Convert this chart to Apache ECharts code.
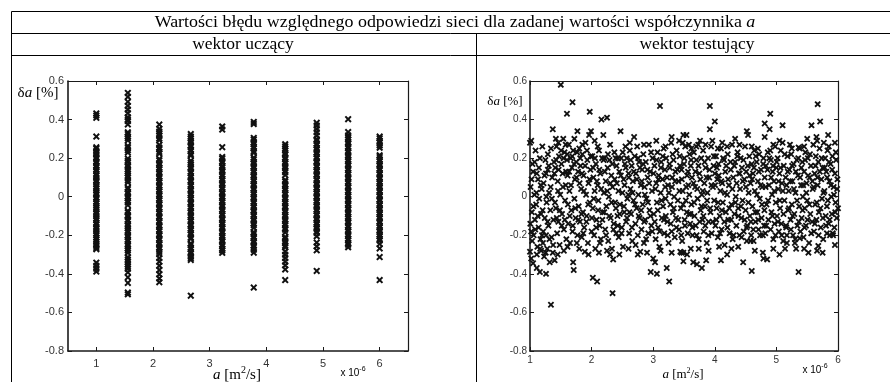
<!DOCTYPE html>
<html>
<head>
<meta charset="UTF-8">
<title>Wartości błędu względnego</title>
<script src="https://cdn.jsdelivr.net/npm/echarts@6/dist/echarts.min.js"></script>
</head>
<body style="margin:0;background:#fff">
<div id="main" style="width:890px;height:382px;"></div>
<script type="text/javascript">
// wartosci wspolczynnika a (x 10^-6) dla wektora uczacego
var aLevels = [1, 1.556, 2.111, 2.667, 3.222, 3.778, 4.333, 4.889, 5.444, 6];

// blad wzgledny [%] - wektor uczacy, jedna lista na kazda wartosc a
var trainErr = [
  [0.432, 0.421, 0.409, 0.312, 0.256, 0.249, 0.236, 0.227, 0.219, 0.204, 0.196, 0.183, 0.176, 0.161, 0.152, 0.14, 0.133, 0.118, 0.109, 0.097, 0.084, 0.078, 0.063, 0.051, 0.044, 0.031, 0.019, 0.011, -0.003, -0.012, -0.026, -0.034, -0.047, -0.058, -0.066, -0.079, -0.088, -0.101, -0.113, -0.121, -0.136, -0.144, -0.157, -0.166, -0.178, -0.191, -0.199, -0.212, -0.223, -0.234, -0.246, -0.255, -0.266, -0.272, -0.342, -0.358, -0.373, -0.388],
  [0.538, 0.518, 0.492, 0.471, 0.452, 0.433, 0.412, 0.401, 0.392, 0.375, 0.334, 0.325, 0.311, 0.303, 0.292, 0.263, 0.254, 0.241, 0.229, 0.198, 0.186, 0.179, 0.164, 0.155, 0.142, 0.133, 0.121, 0.108, 0.099, 0.086, 0.075, 0.047, 0.039, 0.024, 0.016, 0.002, -0.007, -0.021, -0.03, -0.044, -0.073, -0.081, -0.096, -0.104, -0.119, -0.127, -0.142, -0.151, -0.163, -0.176, -0.185, -0.2, -0.209, -0.222, -0.231, -0.246, -0.255, -0.268, -0.279, -0.291, -0.314, -0.326, -0.338, -0.351, -0.363, -0.374, -0.392, -0.418, -0.447, -0.497, -0.506],
  [0.374, 0.352, 0.338, 0.326, 0.317, 0.302, 0.293, 0.269, 0.255, 0.247, 0.232, 0.223, 0.196, 0.188, 0.173, 0.165, 0.151, 0.142, 0.128, 0.119, 0.105, 0.096, 0.082, 0.074, 0.059, 0.05, 0.036, 0.027, 0.013, 0.004, -0.01, -0.019, -0.033, -0.041, -0.056, -0.064, -0.079, -0.087, -0.102, -0.11, -0.125, -0.133, -0.148, -0.156, -0.171, -0.179, -0.194, -0.202, -0.217, -0.225, -0.24, -0.248, -0.263, -0.271, -0.286, -0.298, -0.318, -0.337, -0.358, -0.38, -0.402, -0.424, -0.443],
  [0.325, 0.312, 0.301, 0.289, 0.281, 0.266, 0.258, 0.244, 0.236, 0.221, 0.213, 0.187, 0.176, 0.167, 0.153, 0.145, 0.13, 0.122, 0.108, 0.099, 0.085, 0.077, 0.062, 0.054, 0.039, 0.031, 0.017, 0.008, -0.006, -0.015, -0.029, -0.037, -0.052, -0.06, -0.074, -0.083, -0.097, -0.106, -0.12, -0.128, -0.143, -0.151, -0.165, -0.174, -0.188, -0.196, -0.211, -0.219, -0.242, -0.25, -0.264, -0.273, -0.287, -0.295, -0.309, -0.318, -0.328, -0.513],
  [0.364, 0.348, 0.257, 0.206, 0.197, 0.183, 0.175, 0.16, 0.152, 0.138, 0.129, 0.115, 0.107, 0.092, 0.084, 0.07, 0.061, 0.047, 0.039, 0.024, 0.016, 0.002, -0.007, -0.021, -0.029, -0.044, -0.052, -0.066, -0.075, -0.089, -0.097, -0.112, -0.12, -0.134, -0.143, -0.157, -0.165, -0.18, -0.188, -0.202, -0.211, -0.225, -0.233, -0.248, -0.256, -0.27, -0.279, -0.291],
  [0.388, 0.377, 0.305, 0.296, 0.282, 0.273, 0.259, 0.251, 0.236, 0.228, 0.203, 0.194, 0.18, 0.171, 0.157, 0.149, 0.134, 0.126, 0.112, 0.103, 0.089, 0.08, 0.066, 0.058, 0.043, 0.035, 0.021, 0.012, -0.002, -0.011, -0.025, -0.033, -0.048, -0.056, -0.07, -0.079, -0.093, -0.101, -0.116, -0.124, -0.138, -0.147, -0.161, -0.184, -0.193, -0.207, -0.215, -0.23, -0.238, -0.252, -0.261, -0.275, -0.29, -0.471],
  [0.272, 0.261, 0.249, 0.24, 0.226, 0.218, 0.203, 0.195, 0.181, 0.172, 0.158, 0.149, 0.135, 0.127, 0.112, 0.087, 0.079, 0.064, 0.056, 0.042, 0.033, 0.019, 0.011, -0.004, -0.012, -0.026, -0.035, -0.049, -0.057, -0.072, -0.08, -0.094, -0.103, -0.117, -0.126, -0.14, -0.148, -0.163, -0.171, -0.185, -0.209, -0.217, -0.231, -0.24, -0.254, -0.262, -0.284, -0.301, -0.318, -0.337, -0.356, -0.377, -0.432],
  [0.383, 0.369, 0.351, 0.334, 0.317, 0.298, 0.29, 0.275, 0.267, 0.253, 0.244, 0.23, 0.221, 0.207, 0.199, 0.184, 0.176, 0.161, 0.153, 0.139, 0.13, 0.116, 0.108, 0.093, 0.085, 0.07, 0.062, 0.048, 0.039, 0.025, 0.016, 0.002, -0.006, -0.021, -0.029, -0.043, -0.052, -0.066, -0.075, -0.089, -0.097, -0.112, -0.12, -0.134, -0.143, -0.157, -0.166, -0.18, -0.188, -0.205, -0.238, -0.257, -0.278, -0.385],
  [0.402, 0.335, 0.318, 0.306, 0.297, 0.283, 0.274, 0.26, 0.252, 0.237, 0.229, 0.215, 0.206, 0.192, 0.183, 0.169, 0.161, 0.146, 0.138, 0.124, 0.115, 0.101, 0.092, 0.078, 0.07, 0.055, 0.047, 0.032, 0.024, 0.01, 0.001, -0.013, -0.022, -0.036, -0.044, -0.059, -0.067, -0.081, -0.09, -0.104, -0.113, -0.127, -0.135, -0.15, -0.158, -0.172, -0.181, -0.195, -0.204, -0.218, -0.226, -0.241, -0.249, -0.262],
  [0.312, 0.303, 0.289, 0.28, 0.266, 0.254, 0.215, 0.206, 0.192, 0.183, 0.169, 0.16, 0.146, 0.138, 0.123, 0.115, 0.1, 0.092, 0.078, 0.069, 0.055, 0.046, 0.032, 0.024, 0.009, 0.001, -0.014, -0.022, -0.037, -0.045, -0.059, -0.068, -0.082, -0.091, -0.105, -0.113, -0.128, -0.136, -0.151, -0.159, -0.173, -0.182, -0.196, -0.205, -0.219, -0.227, -0.245, -0.268, -0.313, -0.432]
];

// wektor testujacy: [a (x 10^-6), blad wzgledny %]
var testPts = [
  [1.5,0.58],[1.69,0.49],[1.6,0.43],[1.97,0.44],[2.16,0.4],[2.25,0.41],[1.37,0.35],[2.47,0.34],[2.69,0.31],[3.11,0.47],
  [1.77,0.34],[1.54,0.3],[1.02,0.29],[1.0,0.28],[1.29,0.22],[1.11,0.12],[1.26,0.12],[1.99,0.34],[1.96,0.32],[2.19,0.32],[3.49,0.32],
  [3.92,0.47],[5.67,0.48],[4.9,0.43],[4.0,0.39],[5.71,0.39],[4.81,0.38],[4.89,0.35],[5.1,0.37],[5.57,0.37],[3.92,0.35],
  [4.52,0.34],[4.54,0.32],[5.84,0.32],[4.81,0.31],[5.65,0.31],[5.66,0.29],[3.54,0.32],[3.96,0.29],[5.1,0.28],[5.22,0.27],
  [5.36,0.255],[4.9,0.24],[5.77,0.28],[3.76,0.29],[3.48,0.28],
  [1.34,-0.56],[2.34,-0.5],[2.02,-0.42],[2.09,-0.44],[1.26,-0.4],[1.7,-0.34],[1.71,-0.38],[2.96,-0.39],[3.06,-0.4],[3.22,-0.37],
  [3.26,-0.44],[1.11,-0.37],[1.16,-0.39],[3.0,-0.32],[3.03,-0.34],[2.79,-0.285],[2.9,-0.29],[2.3,-0.3],[2.35,-0.325],[1.89,-0.285],
  [1.61,-0.26],[1.65,-0.24],[1.76,-0.24],[3.44,-0.285],[3.49,-0.29],[3.49,-0.335],[1.0,-0.285],[1.02,-0.32],[1.05,-0.345],
  [4.6,-0.385],[5.36,-0.39],[3.79,-0.37],[3.71,-0.35],[3.65,-0.34],[4.1,-0.33],[3.86,-0.33],[4.46,-0.34],[4.79,-0.32],[4.85,-0.325],
  [5.52,-0.29],[5.66,-0.28],[5.95,-0.25],[4.52,-0.23],[4.58,-0.23],[4.27,-0.27],[4.07,-0.26],[3.46,-0.29],[3.61,-0.27],[3.74,-0.27],
  [4.78,-0.29],[5.14,-0.27],[5.17,-0.24],[5.32,-0.27],[5.3,-0.24],[5.38,-0.215],[5.68,-0.255],[5.82,-0.19],[5.92,-0.2],[4.78,-0.2],[5.17,-0.2],
  [3.58,0.27],[3.62,0.25],[3.7,0.26],[3.85,0.27],[4.05,0.25],[4.12,0.28],[4.2,0.26],[4.33,0.3],[4.4,0.27],[4.6,0.26],
  [4.7,0.25],[4.95,0.27],[5.05,0.29],[5.25,0.25],[5.45,0.26],[5.5,0.3],[5.85,0.26],[5.95,0.28],
  [1.2,0.26],[1.42,0.3],[1.46,0.28],[1.58,0.27],[1.72,0.3],[1.85,0.27],[2.05,0.29],[2.1,0.26],[2.3,0.27],[2.55,0.26],
  [2.62,0.28],[2.85,0.27],[3.05,0.29],[3.2,0.26],[3.3,0.31],[3.42,0.29],
  [1.45,-0.3],[1.55,-0.28],[1.8,-0.27],[1.95,-0.3],[2.12,-0.29],[2.25,-0.28],[2.45,-0.3],[2.6,-0.27],[2.75,-0.3],[3.12,-0.28],
  [3.3,-0.29],[3.55,-0.3],[3.9,-0.28],[4.2,-0.3],[4.38,-0.26],[4.65,-0.28],[4.95,-0.27],[5.05,-0.3],[5.45,-0.27],[5.75,-0.29],
  [1.01,0.05],[1.03,-0.08],[1.04,0.17],[1.06,-0.2],[1.07,0.01],[1.08,-0.12],[1.09,0.24],[1.1,-0.04],[1.12,-0.26],[1.13,0.09],
  [1.14,-0.16],[1.15,-0.01],[1.16,0.2],[1.17,-0.22],[1.18,-0.09],[1.19,0.04],[1.02,-0.18],[1.05,0.13],[1.11,-0.3],[1.18,-0.28],
  [1.21,-0.24],[1.22,0.07],[1.23,-0.31],[1.24,-0.11],[1.25,0.19],[1.26,-0.2],[1.27,-0.03],[1.28,-0.27],[1.29,0.14],[1.3,-0.15],
  [1.31,0.02],[1.32,-0.34],[1.33,-0.07],[1.34,0.25],[1.35,-0.21],[1.36,0.1],[1.37,-0.29],[1.38,-0.12],[1.39,0.18],[1.4,-0.33],
  [1.41,0.15],[1.42,-0.06],[1.43,0.26],[1.44,-0.19],[1.45,0.08],[1.46,-0.13],[1.47,0.21],[1.48,-0.25],[1.49,0.01],[1.51,0.17],
  [1.52,-0.09],[1.53,0.12],[1.55,-0.17],[1.56,0.23],[1.57,-0.02],[1.58,0.06],[1.59,-0.22],[1.6,0.19],
  [1.61,0.11],[1.62,-0.14],[1.63,0.27],[1.64,0.03],[1.66,0.2],[1.67,-0.07],[1.68,0.15],[1.69,-0.18],[1.7,0.24],[1.72,-0.01],
  [1.73,0.09],[1.74,-0.11],[1.75,0.18],[1.77,-0.2],[1.78,0.13],[1.79,-0.05],[1.8,0.25],
  [1.81,-0.13],[1.82,0.16],[1.83,0.04],[1.84,-0.21],[1.85,0.22],[1.86,-0.08],[1.87,0.11],[1.88,-0.16],[1.9,0.28],[1.91,0.01],
  [1.92,-0.1],[1.93,0.19],[1.94,-0.24],[1.95,0.07],[1.97,-0.03],[1.98,0.14],[2.0,-0.18],
  [2.01,0.21],[2.02,-0.06],[2.03,0.1],[2.04,-0.2],[2.05,0.03],[2.06,-0.27],[2.07,0.17],[2.08,-0.12],[2.1,0.06],[2.11,-0.02],
  [2.12,0.24],[2.13,-0.15],[2.14,0.12],[2.15,-0.22],[2.17,0.2],[2.18,-0.08],[2.2,0.02],
  [2.21,0.2],[2.22,-0.17],[2.23,0.08],[2.24,-0.05],[2.26,0.15],[2.27,-0.23],[2.28,0.0],[2.29,0.19],[2.31,-0.11],[2.32,0.11],
  [2.33,-0.27],[2.34,0.05],[2.36,-0.14],[2.37,0.23],[2.38,-0.03],[2.39,0.2],[2.4,-0.19],
  [2.41,0.07],[2.42,-0.1],[2.43,0.2],[2.44,-0.21],[2.45,0.13],[2.46,-0.04],[2.48,0.2],[2.49,-0.16],[2.5,0.02],[2.51,-0.26],
  [2.52,0.09],[2.53,-0.08],[2.54,0.17],[2.56,-0.13],[2.57,0.2],[2.58,-0.01],[2.6,0.12],
  [2.61,-0.19],[2.62,0.24],[2.63,0.04],[2.64,-0.09],[2.65,0.16],[2.66,-0.23],[2.67,0.08],[2.68,-0.02],[2.7,0.21],[2.71,-0.14],
  [2.72,0.12],[2.73,-0.06],[2.74,0.26],[2.75,-0.2],[2.76,0.01],[2.77,0.18],[2.78,-0.11],[2.8,0.06],
  [2.81,-0.17],[2.82,0.14],[2.83,-0.04],[2.84,0.22],[2.85,-0.24],[2.86,0.05],[2.87,-0.12],[2.88,0.18],[2.89,-0.01],[2.91,0.1],
  [2.92,-0.19],[2.93,0.27],[2.94,-0.07],[2.95,0.13],[2.97,-0.15],[2.98,0.03],[2.99,0.2],
  [3.01,-0.09],[3.02,0.16],[3.04,-0.22],[3.05,0.07],[3.06,-0.03],[3.07,0.23],[3.08,-0.16],[3.09,0.11],[3.1,-0.26],[3.12,0.02],
  [3.13,0.18],[3.14,-0.11],[3.15,0.09],[3.16,-0.05],[3.17,0.25],[3.18,-0.19],[3.19,0.14],[3.2,-0.01],
  [3.21,0.2],[3.23,-0.13],[3.24,0.06],[3.25,-0.24],[3.27,0.15],[3.28,-0.04],[3.29,0.28],[3.3,-0.18],[3.31,0.1],[3.32,-0.08],
  [3.33,0.19],[3.34,0.0],[3.35,-0.21],[3.36,0.13],[3.37,-0.11],[3.38,0.24],[3.4,-0.02],
  [3.41,0.08],[3.42,-0.17],[3.43,0.21],[3.45,-0.06],[3.46,0.14],[3.47,-0.23],[3.48,0.03],[3.5,0.17],[3.51,-0.12],[3.52,0.26],
  [3.53,-0.02],[3.55,0.11],[3.56,-0.19],[3.57,0.06],[3.58,-0.09],[3.59,0.22],[3.6,-0.14],
  [3.61,0.16],[3.62,-0.04],[3.63,0.1],[3.64,-0.2],[3.66,0.23],[3.67,-0.1],[3.68,0.05],[3.69,-0.15],[3.7,0.19],[3.72,-0.01],
  [3.73,0.27],[3.74,-0.22],[3.75,0.12],[3.77,-0.07],[3.78,0.2],[3.79,0.01],[3.8,-0.12],
  [3.81,0.24],[3.82,-0.18],[3.83,0.07],[3.84,-0.05],[3.85,0.15],[3.87,-0.24],[3.88,0.02],[3.89,0.2],[3.9,-0.13],[3.91,0.1],
  [3.93,-0.08],[3.94,0.26],[3.95,-0.19],[3.97,0.05],[3.98,0.16],[3.99,-0.02],[4.0,0.12],
  [4.01,-0.15],[4.02,0.21],[4.03,-0.06],[4.04,0.09],[4.05,-0.21],[4.06,0.17],[4.08,-0.1],[4.09,0.03],[4.1,0.25],[4.11,-0.17],
  [4.12,0.07],[4.13,-0.03],[4.15,0.19],[4.16,-0.25],[4.17,0.13],[4.18,-0.08],[4.2,0.01],
  [4.21,0.22],[4.22,-0.12],[4.23,0.06],[4.24,-0.19],[4.26,0.14],[4.27,-0.04],[4.28,0.27],[4.29,-0.22],[4.3,0.1],[4.32,-0.09],
  [4.33,0.18],[4.34,0.0],[4.35,-0.15],[4.37,0.23],[4.38,-0.06],[4.39,0.12],[4.4,-0.2],
  [4.41,0.04],[4.42,0.2],[4.43,-0.11],[4.44,0.15],[4.45,-0.02],[4.47,-0.18],[4.48,0.09],[4.49,0.26],[4.5,-0.07],[4.51,0.13],
  [4.53,-0.15],[4.55,0.02],[4.56,0.21],[4.57,-0.1],[4.58,0.07],[4.59,-0.2],[4.6,0.17],
  [4.61,-0.05],[4.62,0.12],[4.63,-0.23],[4.64,0.24],[4.65,0.03],[4.66,-0.13],[4.68,0.18],[4.69,-0.08],[4.7,0.08],[4.71,-0.17],
  [4.72,0.22],[4.73,-0.01],[4.75,0.14],[4.76,-0.11],[4.77,0.05],[4.79,0.2],[4.8,-0.15],
  [4.81,0.1],[4.82,-0.19],[4.83,0.16],[4.84,-0.04],[4.86,0.23],[4.87,-0.12],[4.88,0.06],[4.91,0.19],[4.92,-0.08],[4.93,0.01],
  [4.94,0.13],[4.95,-0.22],[4.96,0.08],[4.97,-0.14],[4.98,0.26],[4.99,-0.03],[5.0,0.15],
  [5.01,-0.1],[5.02,0.2],[5.03,0.04],[5.04,-0.18],[5.05,0.12],[5.06,-0.06],[5.07,0.24],[5.08,-0.14],[5.09,0.07],[5.11,-0.23],
  [5.12,0.16],[5.13,-0.02],[5.15,0.1],[5.16,-0.16],[5.18,0.21],[5.19,-0.07],[5.2,0.03],
  [5.21,0.14],[5.23,-0.12],[5.24,0.22],[5.25,-0.04],[5.26,0.08],[5.27,-0.2],[5.28,0.17],[5.29,-0.09],[5.31,0.02],[5.33,0.19],
  [5.34,-0.15],[5.35,0.11],[5.37,-0.05],[5.38,0.25],[5.39,-0.18],[5.4,0.06],
  [5.41,-0.11],[5.42,0.18],[5.43,0.0],[5.44,-0.21],[5.45,0.13],[5.46,-0.06],[5.47,0.23],[5.48,-0.15],[5.49,0.07],[5.5,-0.02],
  [5.51,0.2],[5.53,-0.24],[5.54,0.1],[5.55,-0.09],[5.56,0.16],[5.58,-0.13],[5.59,0.04],[5.6,0.27],
  [5.61,-0.18],[5.62,0.12],[5.63,-0.04],[5.64,0.21],[5.65,-0.12],[5.67,0.06],[5.68,0.18],[5.69,-0.08],[5.7,0.25],[5.72,-0.16],
  [5.73,0.09],[5.74,-0.01],[5.75,0.15],[5.76,-0.22],[5.78,0.03],[5.79,0.2],[5.8,-0.1],
  [5.81,0.13],[5.82,-0.05],[5.83,0.24],[5.85,-0.14],[5.86,0.08],[5.87,-0.2],[5.88,0.17],[5.89,0.0],[5.9,-0.09],[5.91,0.21],
  [5.93,0.05],[5.94,-0.16],[5.95,0.12],[5.96,-0.03],[5.97,0.19],[5.98,-0.11],[5.99,0.09],[6.0,-0.06],
  [1.005,-0.14],[1.025,0.09],[1.035,-0.23],[1.055,-0.05],[1.075,0.18],[1.085,-0.17],[1.105,0.02],[1.125,-0.1],[1.145,0.15],[1.165,-0.27],[1.175,0.06],[1.195,-0.2],
  [1.205,-0.07],[1.215,-0.18],[1.235,0.11],[1.255,-0.29],[1.265,0.0],[1.285,-0.13],[1.305,0.16],[1.315,-0.22],[1.335,0.05],[1.355,-0.01],[1.375,-0.25],[1.395,0.12],
  [1.405,-0.03],[1.425,0.19],[1.435,-0.11],[1.455,0.03],[1.465,0.14],[1.485,-0.07],[1.505,0.24],[1.515,-0.15],[1.535,0.05],[1.545,0.2],[1.565,-0.12],[1.585,0.13],
  [1.605,0.22],[1.615,-0.04],[1.635,0.13],[1.645,-0.1],[1.665,0.06],[1.685,0.21],[1.695,-0.15],[1.715,0.17],[1.735,-0.06],[1.755,0.1],[1.765,0.23],[1.785,-0.12],
  [1.805,0.07],[1.815,0.2],[1.835,-0.09],[1.845,0.12],[1.865,-0.19],[1.875,0.03],[1.895,0.16],[1.915,-0.13],[1.925,0.24],[1.945,-0.04],[1.965,0.09],[1.985,0.21],
  [2.005,-0.11],[2.025,0.15],[2.035,-0.01],[2.055,0.2],[2.075,-0.16],[2.085,0.08],[2.105,-0.07],[2.125,0.14],[2.135,-0.24],[2.155,0.04],[2.175,-0.12],[2.195,0.19],
  [2.205,-0.08],[2.215,0.13],[2.235,-0.2],[2.255,0.03],[2.265,0.22],[2.285,-0.1],[2.305,0.07],[2.325,-0.03],[2.335,0.17],[2.355,-0.17],[2.375,0.09],[2.395,-0.06],
  [2.405,0.16],[2.425,-0.15],[2.435,0.03],[2.455,-0.09],[2.475,0.11],[2.485,-0.19],[2.505,0.23],[2.525,-0.05],[2.535,0.06],[2.555,0.15],[2.575,-0.11],[2.595,0.01],
  [2.605,0.1],[2.615,-0.08],[2.635,0.19],[2.655,-0.16],[2.665,0.02],[2.685,0.13],[2.705,-0.04],[2.715,-0.25],[2.735,0.09],[2.755,0.2],[2.765,-0.1],[2.785,0.15],
  [2.805,-0.07],[2.815,0.08],[2.835,0.17],[2.855,-0.13],[2.865,0.01],[2.885,-0.22],[2.905,0.14],[2.915,-0.03],[2.935,0.07],[2.955,-0.1],[2.965,0.23],[2.985,-0.18],
  [3.005,0.12],[3.025,-0.13],[3.035,0.04],[3.055,0.19],[3.075,-0.07],[3.085,0.09],[3.105,-0.18],[3.125,0.15],[3.135,-0.02],[3.155,0.21],[3.175,-0.12],[3.195,0.05],
  [3.205,-0.1],[3.225,0.1],[3.235,-0.2],[3.255,0.02],[3.265,0.17],[3.285,-0.14],[3.305,0.05],[3.315,0.22],[3.335,-0.06],[3.355,0.08],[3.375,-0.16],[3.395,0.14],
  [3.405,-0.12],[3.425,0.03],[3.435,0.16],[3.455,-0.2],[3.465,0.09],[3.485,-0.04],[3.505,0.2],[3.515,-0.15],[3.535,0.05],[3.545,-0.08],[3.565,0.13],[3.585,0.01],
  [3.605,-0.09],[3.615,0.19],[3.635,-0.16],[3.655,0.07],[3.665,-0.03],[3.685,0.13],[3.705,-0.2],[3.715,0.04],[3.735,0.16],[3.755,-0.13],[3.765,0.09],[3.785,-0.05],
  [3.805,0.03],[3.815,-0.1],[3.835,0.18],[3.845,-0.15],[3.865,0.1],[3.875,-0.02],[3.895,-0.2],[3.915,0.14],[3.925,-0.06],[3.945,0.06],[3.965,-0.13],[3.985,0.21],
  [4.005,0.06],[4.025,-0.12],[4.035,0.15],[4.055,-0.03],[4.065,0.11],[4.085,-0.19],[4.105,0.08],[4.115,-0.07],[4.135,0.2],[4.155,-0.13],[4.165,0.02],[4.185,0.16],
  [4.205,-0.16],[4.215,0.09],[4.235,-0.06],[4.255,0.18],[4.265,-0.12],[4.285,0.04],[4.305,-0.2],[4.315,0.16],[4.335,-0.03],[4.355,0.07],[4.365,0.21],[4.385,-0.1],
  [4.405,0.12],[4.425,-0.05],[4.435,-0.21],[4.455,0.08],[4.465,0.19],[4.485,-0.12],[4.505,0.05],[4.515,-0.16],[4.535,0.16],[4.545,-0.03],[4.565,0.11],[4.585,-0.13],
  [4.605,0.09],[4.625,-0.17],[4.635,0.15],[4.655,-0.08],[4.665,0.21],[4.685,0.01],[4.705,-0.12],[4.715,0.13],[4.735,-0.2],[4.745,0.06],[4.765,-0.04],[4.785,0.17],
  [4.805,-0.07],[4.825,0.05],[4.835,-0.15],[4.855,0.14],[4.865,-0.02],[4.885,0.2],[4.905,-0.17],[4.915,0.1],[4.935,-0.1],[4.945,0.16],[4.965,0.03],[4.985,-0.2],
  [5.005,0.18],[5.025,-0.13],[5.035,0.08],[5.055,-0.02],[5.065,0.15],[5.085,-0.2],[5.105,0.03],[5.115,-0.09],[5.135,0.22],[5.155,-0.15],[5.165,0.06],[5.185,0.13],
  [5.205,-0.06],[5.225,0.08],[5.235,-0.17],[5.255,0.16],[5.265,-0.1],[5.285,0.04],[5.305,-0.22],[5.315,0.13],[5.335,-0.02],[5.355,0.2],[5.365,-0.13],[5.385,0.1],
  [5.405,0.15],[5.425,-0.07],[5.435,0.06],[5.455,-0.16],[5.465,0.19],[5.485,0.02],[5.505,-0.12],[5.515,0.11],[5.535,-0.04],[5.545,0.22],[5.565,-0.19],[5.585,0.08],
  [5.605,0.05],[5.625,-0.14],[5.635,0.16],[5.655,-0.03],[5.665,0.1],[5.685,-0.2],[5.705,0.13],[5.715,-0.06],[5.735,0.2],[5.755,-0.11],[5.765,0.02],[5.785,0.15],
  [5.805,-0.15],[5.825,0.1],[5.835,-0.02],[5.855,0.18],[5.865,-0.12],[5.885,0.06],[5.905,0.14],[5.915,-0.19],[5.935,0.01],[5.955,-0.08],[5.965,0.23],[5.985,0.04]
];

var xTicks = [1, 2, 3, 4, 5, 6];
var yTicks = [-0.8, -0.6, -0.4, -0.2, 0, 0.2, 0.4, 0.6];

var myChart = echarts.init(document.getElementById('main'));

var trainData = [];
for (var i = 0; i < aLevels.length; i++) {
  for (var j = 0; j < trainErr[i].length; j++) {
    trainData.push([aLevels[i], trainErr[i][j]]);
  }
}

// znacznik "x" jak w matlabie
var xMark = 'path://M0,2L2,0L5,3L8,0L10,2L7,5L10,8L8,10L5,7L2,10L0,8L3,5Z';
var axCol = '#1a1a1a';
var sans = 'Liberation Sans';
var serif = 'Liberation Serif';

function fmtY(v) {
  return v === 0 ? '0' : v.toFixed(1);
}

function xAx(grid, pos, min, max, lw, showLab, fs, margin) {
  return {
    type: 'value', gridIndex: grid, position: pos, min: min, max: max,
    axisLine: { onZero: false, lineStyle: { color: axCol, width: lw } },
    axisTick: { inside: true, length: 4, customValues: xTicks, lineStyle: { color: axCol } },
    axisLabel: { show: showLab, customValues: xTicks, margin: margin, fontSize: fs, fontFamily: sans, color: '#333' },
    splitLine: { show: false }
  };
}

function yAx(grid, pos, lw, showLab, fs, margin) {
  return {
    type: 'value', gridIndex: grid, position: pos, min: -0.8, max: 0.6,
    axisLine: { onZero: false, lineStyle: { color: axCol, width: lw } },
    axisTick: { inside: true, length: 4, customValues: yTicks, lineStyle: { color: axCol } },
    axisLabel: { show: showLab, customValues: yTicks, formatter: fmtY, margin: margin, fontSize: fs, fontFamily: sans, color: '#333' },
    splitLine: { show: false }
  };
}

function line(x1, y1, x2, y2) {
  return { type: 'line', silent: true, shape: { x1: x1, y1: y1, x2: x2, y2: y2 }, style: { stroke: '#000', lineWidth: 1 } };
}

function txt(x, y, text, rich, sx) {
  return {
    type: 'text', silent: true, x: x, y: y, scaleX: sx || 1,
    style: { text: text, rich: rich, align: 'center', verticalAlign: 'middle', fill: '#000' }
  };
}

var headRich = {
  n: { fontFamily: serif, fontSize: 17, color: '#000' },
  i: { fontFamily: serif, fontSize: 17, fontStyle: 'italic', color: '#000' }
};
function yTitleRich(fs) {
  return {
    n: { fontFamily: serif, fontSize: fs, color: '#222' },
    i: { fontFamily: serif, fontSize: fs, fontStyle: 'italic', color: '#222' }
  };
}
function xTitleRich(fs) {
  return {
    n: { fontFamily: serif, fontSize: fs, color: '#222', lineHeight: fs + 2, verticalAlign: 'bottom' },
    i: { fontFamily: serif, fontSize: fs, fontStyle: 'italic', color: '#222', lineHeight: fs + 2, verticalAlign: 'bottom' },
    s: { fontFamily: serif, fontSize: fs - 5, color: '#222', lineHeight: fs - 4, verticalAlign: 'top' }
  };
}
var expRich = {
  n: { fontFamily: sans, fontSize: 10, color: '#333', lineHeight: 12, verticalAlign: 'bottom' },
  s: { fontFamily: sans, fontSize: 7, color: '#333', lineHeight: 8, verticalAlign: 'top' }
};

var option = {
  animation: false,
  backgroundColor: '#fff',
  grid: [
    { left: 68, top: 81, width: 340, height: 270 },
    { left: 530, top: 81, width: 308, height: 270 }
  ],
  xAxis: [
    xAx(0, 'bottom', 0.5, 6.5, 1.6, true, 11, 7),
    xAx(0, 'top', 0.5, 6.5, 1.2, false, 11, 7),
    xAx(1, 'bottom', 1, 6, 1.6, true, 10, 4),
    xAx(1, 'top', 1, 6, 1.2, false, 10, 4)
  ],
  yAxis: [
    yAx(0, 'left', 1.6, true, 11, 4),
    yAx(0, 'right', 1.2, false, 11, 4),
    yAx(1, 'left', 1.6, true, 10, 3),
    yAx(1, 'right', 1.2, false, 10, 3)
  ],
  series: [
    {
      name: 'wektor uczący', type: 'scatter', xAxisIndex: 0, yAxisIndex: 0,
      symbol: xMark, symbolSize: 7, silent: true,
      itemStyle: { color: '#111', opacity: 1 },
      data: trainData
    },
    {
      name: 'wektor testujący', type: 'scatter', xAxisIndex: 2, yAxisIndex: 2,
      symbol: xMark, symbolSize: 6.5, silent: true,
      itemStyle: { color: '#111', opacity: 1 },
      data: testPts
    }
  ],
  graphic: [
    line(11.5, 11.5, 890, 11.5),
    line(11.5, 33.5, 890, 33.5),
    line(11.5, 55.5, 890, 55.5),
    line(11.5, 11.5, 11.5, 382),
    line(476.5, 33.5, 476.5, 382),
    txt(455, 22.5, '{n|Wartości błędu względnego odpowiedzi sieci dla zadanej wartości współczynnika }{i|a}', headRich, 1.055),
    txt(243, 44.5, '{n|wektor uczący}', headRich, 1.03),
    txt(697, 44.5, '{n|wektor testujący}', headRich, 1.03),
    txt(38, 93, '{n|δ}{i|a}{n| [%]}', yTitleRich(15)),
    txt(505, 102, '{n|δ}{i|a}{n| [%]}', yTitleRich(13)),
    txt(237, 374, '{i|a}{n| [m}{s|2}{n|/s]}', xTitleRich(15)),
    txt(683, 374, '{i|a}{n| [m}{s|2}{n|/s]}', xTitleRich(13)),
    txt(353, 372, '{n|x 10}{s|-6}', expRich),
    txt(815, 369, '{n|x 10}{s|-6}', expRich)
  ]
};

myChart.setOption(option);
</script>
</body>
</html>
